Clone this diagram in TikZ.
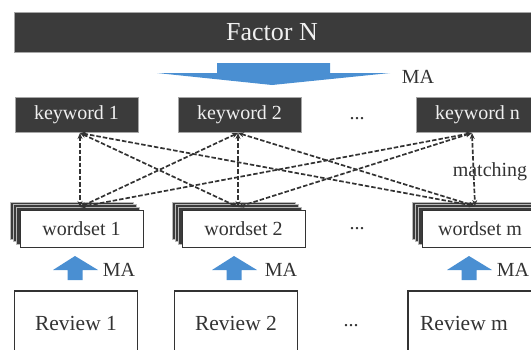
\documentclass[tikz,border=0pt]{standalone}
\usepackage{fontspec}
\setmainfont{Liberation Serif}
\usetikzlibrary{arrows.meta,calc}

\definecolor{boxdark}{HTML}{3B3B3B}
\definecolor{mablue}{HTML}{4A8FD2}
\definecolor{ink}{HTML}{333333}

\tikzset{
  darkbox/.style={fill=boxdark, draw=gray!70, line width=0.6pt, text=white!94!black,
    font=\fontsize{20}{20}\selectfont, minimum width=123pt, minimum height=35pt, inner sep=0pt},
  wordbox/.style={fill=white, draw=ink, line width=1pt, text=ink,
    font=\fontsize{20}{20}\selectfont, minimum width=123pt, minimum height=37pt, inner sep=0pt},
  cardback/.style={fill=boxdark, draw=gray!55, line width=0.5pt},
  reviewbox/.style={fill=white, draw=ink, line width=1.1pt, text=ink,
    font=\fontsize{21.5}{21.5}\selectfont, minimum width=123pt, minimum height=66pt, inner sep=0pt},
  label/.style={text=ink, font=\fontsize{20}{20}\selectfont, inner sep=0pt},
  link/.style={draw=black!80, line width=1.7pt, dash pattern=on 4.5pt off 2pt,
    {Stealth[length=6pt,width=5pt]}-{Stealth[length=6pt,width=5pt]}},
  blockarrow/.style={fill=mablue, draw=none},
}

% stacked cards behind a wordset box centred at x=#1
\newcommand{\cardstack}[1]{%
  \foreach \k in {3,2,1}{%
    \filldraw[cardback] (#1-61.5-3.3*\k, 210-2.7*\k) rectangle ++(123,37);
  }%
}
% upward block arrow with its tip at (#1,256)
\newcommand{\uparrowshape}[1]{%
  \fill[blockarrow] (#1,256) -- (#1+23,270) -- (#1+7.5,270) -- (#1+7.5,280)
    -- (#1-7.5,280) -- (#1-7.5,270) -- (#1-22,270) -- cycle;
}

\begin{document}
\begin{tikzpicture}[x=1pt,y=-1pt]
\useasboundingbox (0,0) rectangle (531,349);
\clip (0,0) rectangle (531,349);

% factor bar
\node[darkbox, minimum width=518pt, minimum height=40pt,
      font=\fontsize{26}{26}\selectfont] (factor) at (273,32) {\hspace*{-2pt}Factor N};

% broad downward arrow
\fill[blockarrow] (217,63) -- (330,63) -- (330,73) -- (390,73) -- (272,85)
  -- (157,73) -- (217,73) -- cycle;
\node[label] (matop) at (418,77) {MA};

% keywords
\node[darkbox] (k1) at (76.5,114.5) {keyword 1};
\node[darkbox] (k2) at (239.5,114.5) {keyword 2};
\node[darkbox] (kn) at (477.5,114.5) {keyword n};
\node[label, anchor=base] (kdots) at (357,119) {...};

% wordsets
\cardstack{81.5}
\cardstack{243.5}
\cardstack{483.5}
\node[wordbox] (w1) at (81.5,228.5) {wordset 1};
\node[wordbox] (w2) at (243.5,228.5) {wordset 2};
\node[wordbox] (wm) at (483.5,228.5) {\hspace*{-7pt}wordset m};
\node[label, anchor=base] (wdots) at (357,229) {...};

% attachment points of the matching links
\coordinate (k1p) at (80,133);
\coordinate (k2p) at (238,133);
\coordinate (knp) at (472,133);
\coordinate (w1p) at (80,207);
\coordinate (w2p) at (238,207);
\coordinate (wmp) at (475,206);

\foreach \a in {k1p,k2p,knp}{
  \foreach \b in {w1p,w2p,wmp}{
    \draw[link] (\a) -- (\b);
  }
}
\node[label] (match) at (490,172) {matching};

% reviews
\node[reviewbox] (r1) at (76,324) {\raisebox{1pt}{Review 1}};
\node[reviewbox] (r2) at (236,324) {\raisebox{1pt}{Review 2}};
\node[reviewbox, minimum width=124pt] (rm) at (470,324) {\hspace*{-12pt}\raisebox{1pt}{Review m}};
\node[label, anchor=base] (rdots) at (351,326) {...};

% review -> wordset arrows
\uparrowshape{75}
\uparrowshape{234}
\uparrowshape{469}
\node[label] (ma1) at (119,270) {MA};
\node[label] (ma2) at (281,270) {MA};
\node[label] (mam) at (513,270) {MA};
\end{tikzpicture}
\end{document}
